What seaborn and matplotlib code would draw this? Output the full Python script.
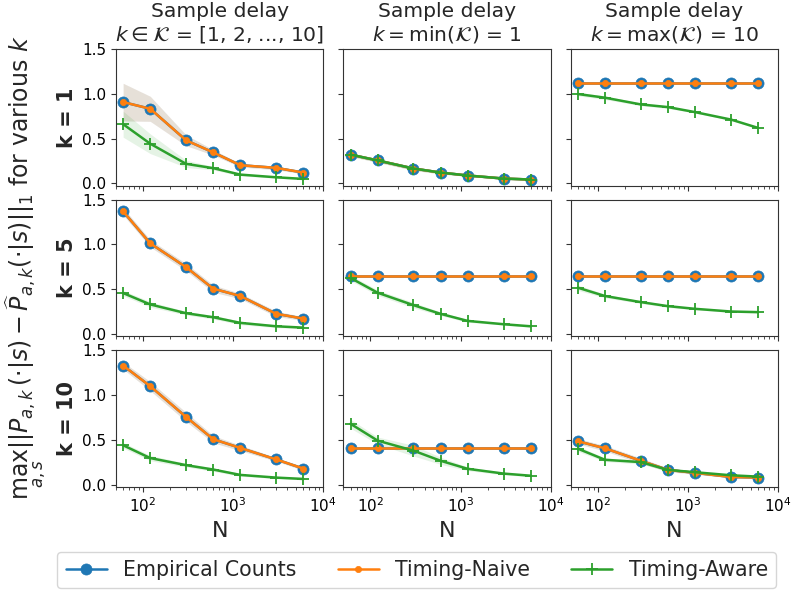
import numpy as np
import pandas as pd
import matplotlib
matplotlib.use("Agg")
import matplotlib.pyplot as plt
import seaborn as sns

sns.set_style("ticks")
plt.rcParams['font.family'] = ['DejaVu Sans']
plt.rcParams['axes.edgecolor'] = '0.2'
plt.rcParams['xtick.color'] = '0.2'
plt.rcParams['ytick.color'] = '0.2'
plt.rcParams['xtick.labelcolor'] = 'black'
plt.rcParams['ytick.labelcolor'] = 'black'

# ---------------- data ----------------
N = [60, 120, 300, 600, 1200, 3000, 6000]

col_titles = [
    "Sample delay\n$k \\in \\mathcal{K}$ = [1, 2, ..., 10]",
    "Sample delay\n$k = \\min(\\mathcal{K})$ = 1",
    "Sample delay\n$k = \\max(\\mathcal{K})$ = 10",
]
row_labels = ["k = 1", "k = 5", "k = 10"]
series_names = ["Empirical Counts", "Timing-Naive", "Timing-Aware"]

# row k=1
ec_r1c0 = [0.907, 0.832, 0.48, 0.345, 0.202, 0.172, 0.12]
aw_r1c0 = [0.66, 0.442, 0.217, 0.169, 0.097, 0.067, 0.049]
ec_r1c1 = [0.32, 0.255, 0.165, 0.12, 0.087, 0.053, 0.042]
aw_r1c1 = [0.32, 0.255, 0.165, 0.12, 0.087, 0.053, 0.042]
ec_r1c2 = [1.115, 1.115, 1.115, 1.115, 1.115, 1.115, 1.115]
aw_r1c2 = [0.997, 0.956, 0.881, 0.851, 0.795, 0.712, 0.619]
# row k=5
ec_r2c0 = [1.369, 1.012, 0.746, 0.506, 0.424, 0.225, 0.172]
aw_r2c0 = [0.457, 0.33, 0.232, 0.187, 0.124, 0.086, 0.071]
ec_r2c1 = [0.645, 0.645, 0.645, 0.645, 0.645, 0.645, 0.645]
aw_r2c1 = [0.626, 0.461, 0.322, 0.225, 0.146, 0.109, 0.086]
ec_r2c2 = [0.645, 0.645, 0.645, 0.645, 0.645, 0.645, 0.645]
aw_r2c2 = [0.517, 0.424, 0.356, 0.311, 0.281, 0.251, 0.244]
# row k=10
ec_r3c0 = [1.33, 1.10, 0.756, 0.508, 0.41, 0.282, 0.18]
aw_r3c0 = [0.44, 0.297, 0.218, 0.169, 0.109, 0.079, 0.064]
ec_r3c1 = [0.406, 0.406, 0.406, 0.406, 0.406, 0.406, 0.406]
aw_r3c1 = [0.68, 0.492, 0.38, 0.267, 0.177, 0.124, 0.10]
ec_r3c2 = [0.485, 0.406, 0.267, 0.165, 0.132, 0.086, 0.079]
aw_r3c2 = [0.402, 0.278, 0.252, 0.165, 0.139, 0.105, 0.09]

# Timing-Naive coincides with Empirical Counts in every panel
nv_r1c0, nv_r1c1, nv_r1c2 = ec_r1c0, ec_r1c1, ec_r1c2
nv_r2c0, nv_r2c1, nv_r2c2 = ec_r2c0, ec_r2c1, ec_r2c2
nv_r3c0, nv_r3c1, nv_r3c2 = ec_r3c0, ec_r3c1, ec_r3c2

# half widths of the shaded bands
ecb_r1c0 = [0.21, 0.14, 0.06, 0.03, 0.02, 0.02, 0.015]
awb_r1c0 = [0.145, 0.11, 0.04, 0.02, 0.015, 0.01, 0.01]
ecb_r1c1 = [0.02, 0.02, 0.02, 0.015, 0.01, 0.01, 0.01]
awb_r1c1 = [0.02, 0.02, 0.02, 0.015, 0.01, 0.01, 0.01]
ecb_r1c2 = [0.0, 0.0, 0.0, 0.0, 0.0, 0.0, 0.0]
awb_r1c2 = [0.02, 0.02, 0.015, 0.015, 0.01, 0.01, 0.01]
ecb_r2c0 = [0.04, 0.04, 0.04, 0.04, 0.03, 0.03, 0.02]
awb_r2c0 = [0.03, 0.03, 0.02, 0.02, 0.02, 0.015, 0.01]
ecb_r2c1 = [0.0, 0.0, 0.0, 0.0, 0.0, 0.0, 0.0]
awb_r2c1 = [0.03, 0.03, 0.03, 0.02, 0.015, 0.01, 0.01]
ecb_r2c2 = [0.0, 0.0, 0.0, 0.0, 0.0, 0.0, 0.0]
awb_r2c2 = [0.03, 0.02, 0.015, 0.015, 0.01, 0.01, 0.01]
ecb_r3c0 = [0.04, 0.05, 0.05, 0.04, 0.03, 0.02, 0.02]
awb_r3c0 = [0.03, 0.03, 0.02, 0.02, 0.015, 0.01, 0.01]
ecb_r3c1 = [0.0, 0.0, 0.0, 0.0, 0.0, 0.0, 0.0]
awb_r3c1 = [0.05, 0.04, 0.06, 0.04, 0.02, 0.015, 0.01]
ecb_r3c2 = [0.03, 0.03, 0.03, 0.02, 0.015, 0.01, 0.01]
awb_r3c2 = [0.03, 0.02, 0.02, 0.015, 0.01, 0.01, 0.01]

panels = [
    [(ec_r1c0, nv_r1c0, aw_r1c0, ecb_r1c0, awb_r1c0),
     (ec_r1c1, nv_r1c1, aw_r1c1, ecb_r1c1, awb_r1c1),
     (ec_r1c2, nv_r1c2, aw_r1c2, ecb_r1c2, awb_r1c2)],
    [(ec_r2c0, nv_r2c0, aw_r2c0, ecb_r2c0, awb_r2c0),
     (ec_r2c1, nv_r2c1, aw_r2c1, ecb_r2c1, awb_r2c1),
     (ec_r2c2, nv_r2c2, aw_r2c2, ecb_r2c2, awb_r2c2)],
    [(ec_r3c0, nv_r3c0, aw_r3c0, ecb_r3c0, awb_r3c0),
     (ec_r3c1, nv_r3c1, aw_r3c1, ecb_r3c1, awb_r3c1),
     (ec_r3c2, nv_r3c2, aw_r3c2, ecb_r3c2, awb_r3c2)],
]

colors = sns.color_palette("tab10")
c_ec, c_nv, c_aw = colors[0], colors[1], colors[2]

fig, axes = plt.subplots(3, 3, figsize=(7.91, 5.94), dpi=100, sharex=True, sharey=True)
fig.subplots_adjust(left=116/791, right=778/791, top=1-49/594, bottom=1-487/594,
                    wspace=0.097, hspace=0.103)

for r in range(3):
    for c in range(3):
        ax = axes[r, c]
        ec, nv, aw, ecb, awb = panels[r][c]
        ec_a, nv_a, aw_a = np.array(ec), np.array(nv), np.array(aw)
        ecb_a, awb_a = np.array(ecb), np.array(awb)
        ax.fill_between(N, ec_a - ecb_a, ec_a + ecb_a, color=c_ec, alpha=0.12, lw=0)
        ax.fill_between(N, nv_a - ecb_a, nv_a + ecb_a, color=c_nv, alpha=0.12, lw=0)
        ax.fill_between(N, aw_a - awb_a, aw_a + awb_a, color=c_aw, alpha=0.12, lw=0)
        sns.lineplot(x=N, y=ec, ax=ax, color=c_ec, marker='o', markersize=8,
                     markeredgecolor=c_ec, markeredgewidth=0.5, lw=1.8,
                     label=series_names[0], legend=False)
        sns.lineplot(x=N, y=nv, ax=ax, color=c_nv, marker='.', markersize=9,
                     markeredgecolor=c_nv, markeredgewidth=0.5, lw=1.8,
                     label=series_names[1], legend=False)
        sns.lineplot(x=N, y=aw, ax=ax, color=c_aw, marker='+', markersize=8,
                     markeredgecolor=c_aw, markeredgewidth=1.3, lw=1.8,
                     label=series_names[2], legend=False)
        ax.set_xscale('log')
        ax.set_xlim(50, 1e4)
        ax.set_ylim(-0.026, 1.5)
        ax.set_yticks([0.0, 0.5, 1.0, 1.5])
        for s in ax.spines.values():
            s.set_visible(True)
            s.set_color('0.2')
        ax.tick_params(labelsize=11)
        if r == 0:
            ax.set_title(col_titles[c], fontsize=14.6)
        if c == 0:
            ax.set_ylabel(row_labels[r], fontsize=15, fontweight='bold')
        else:
            ax.set_ylabel("")
        if r == 2:
            ax.set_xlabel("N", fontsize=16)
        else:
            ax.set_xlabel("")

fig.text(0.005, 0.549,
         r"$\max_{a,s} ||P_{a,k}(\cdot|s) - \widehat{P}_{a,k}(\cdot|s)||_1$ for various $k$",
         rotation=90, fontsize=17, ha='left', va='center')

handles, labels = axes[0, 0].get_legend_handles_labels()
fig.legend(handles, labels, loc='center', bbox_to_anchor=(0.527, 0.04), ncol=3,
           fontsize=14.8, columnspacing=2.0, handlelength=2.0, frameon=True)

fig.savefig("out.png", dpi=100)
